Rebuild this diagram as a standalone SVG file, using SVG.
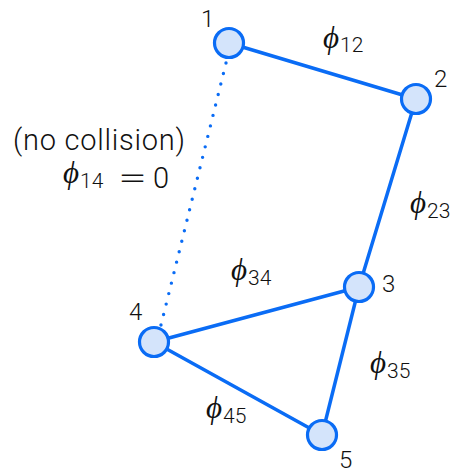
<svg xmlns="http://www.w3.org/2000/svg" width="457" height="473" viewBox="0 0 457 473">
<style>
.edge{stroke:#0a6cf5;stroke-width:3.5;fill:none;stroke-linecap:round}
.dot{stroke:#0a6cf5;stroke-width:3.4;fill:none;stroke-linecap:round;stroke-dasharray:0 10.8}
.node{fill:#d4e4fb;stroke:#0a6cf5;stroke-width:3.2}
.lbl{font-family:Roboto,"Liberation Sans",Arial,sans-serif;font-weight:300;font-size:24px;fill:#111}
.phi{font-family:"Liberation Serif","DejaVu Serif",serif;font-style:italic;font-size:31px;fill:#111}
.sub{font-family:Roboto,"Liberation Sans",Arial,sans-serif;font-weight:300;font-style:normal;font-size:21px}
.txt{font-family:Roboto,"Liberation Sans",Arial,sans-serif;font-weight:300;font-size:29px;fill:#111}
</style>
<g id="connectors">
<line class="edge" x1="229" y1="43" x2="416" y2="99"/>
<line class="edge" x1="416" y1="99" x2="359" y2="287"/>
<line class="edge" x1="359" y1="287" x2="154" y2="342"/>
<line class="edge" x1="359" y1="287" x2="322" y2="435"/>
<line class="edge" x1="154" y1="342" x2="322" y2="435"/>
<line class="dot" x1="226" y1="63" x2="160" y2="329"/>
</g>
<g id="n1"><circle class="node" cx="229" cy="43" r="14.5"/><text class="lbl" x="201" y="27">1</text></g>
<g id="n2"><circle class="node" cx="416" cy="99" r="14.5"/><text class="lbl" x="434" y="87">2</text></g>
<g id="n3"><circle class="node" cx="359" cy="287" r="14.5"/><text class="lbl" x="382" y="292">3</text></g>
<g id="n4"><circle class="node" cx="154" cy="342" r="14.5"/><text class="lbl" x="129" y="320">4</text></g>
<g id="n5"><circle class="node" cx="322" cy="435" r="14.5"/><text class="lbl" x="339" y="468">5</text></g>
<g id="labels">
<text class="phi" x="323" y="48">ϕ<tspan class="sub" dx="1" y="52">12</tspan></text>
<text class="phi" x="410" y="213">ϕ<tspan class="sub" dx="1" y="218">23</tspan></text>
<text class="phi" x="231" y="280">ϕ<tspan class="sub" dx="1" y="285">34</tspan></text>
<text class="phi" x="370" y="373">ϕ<tspan class="sub" dx="1" y="378">35</tspan></text>
<text class="phi" x="206" y="418">ϕ<tspan class="sub" dx="1" y="423">45</tspan></text>
<text class="txt" x="13" y="150" textLength="172">(no collision)</text>
<text class="phi" x="63" y="183">ϕ<tspan class="sub" dx="1" y="188">14</tspan></text>
<text class="txt" x="118" y="188" textLength="29" lengthAdjust="spacingAndGlyphs">=</text>
<text class="txt" x="153" y="188">0</text>
</g>
</svg>
